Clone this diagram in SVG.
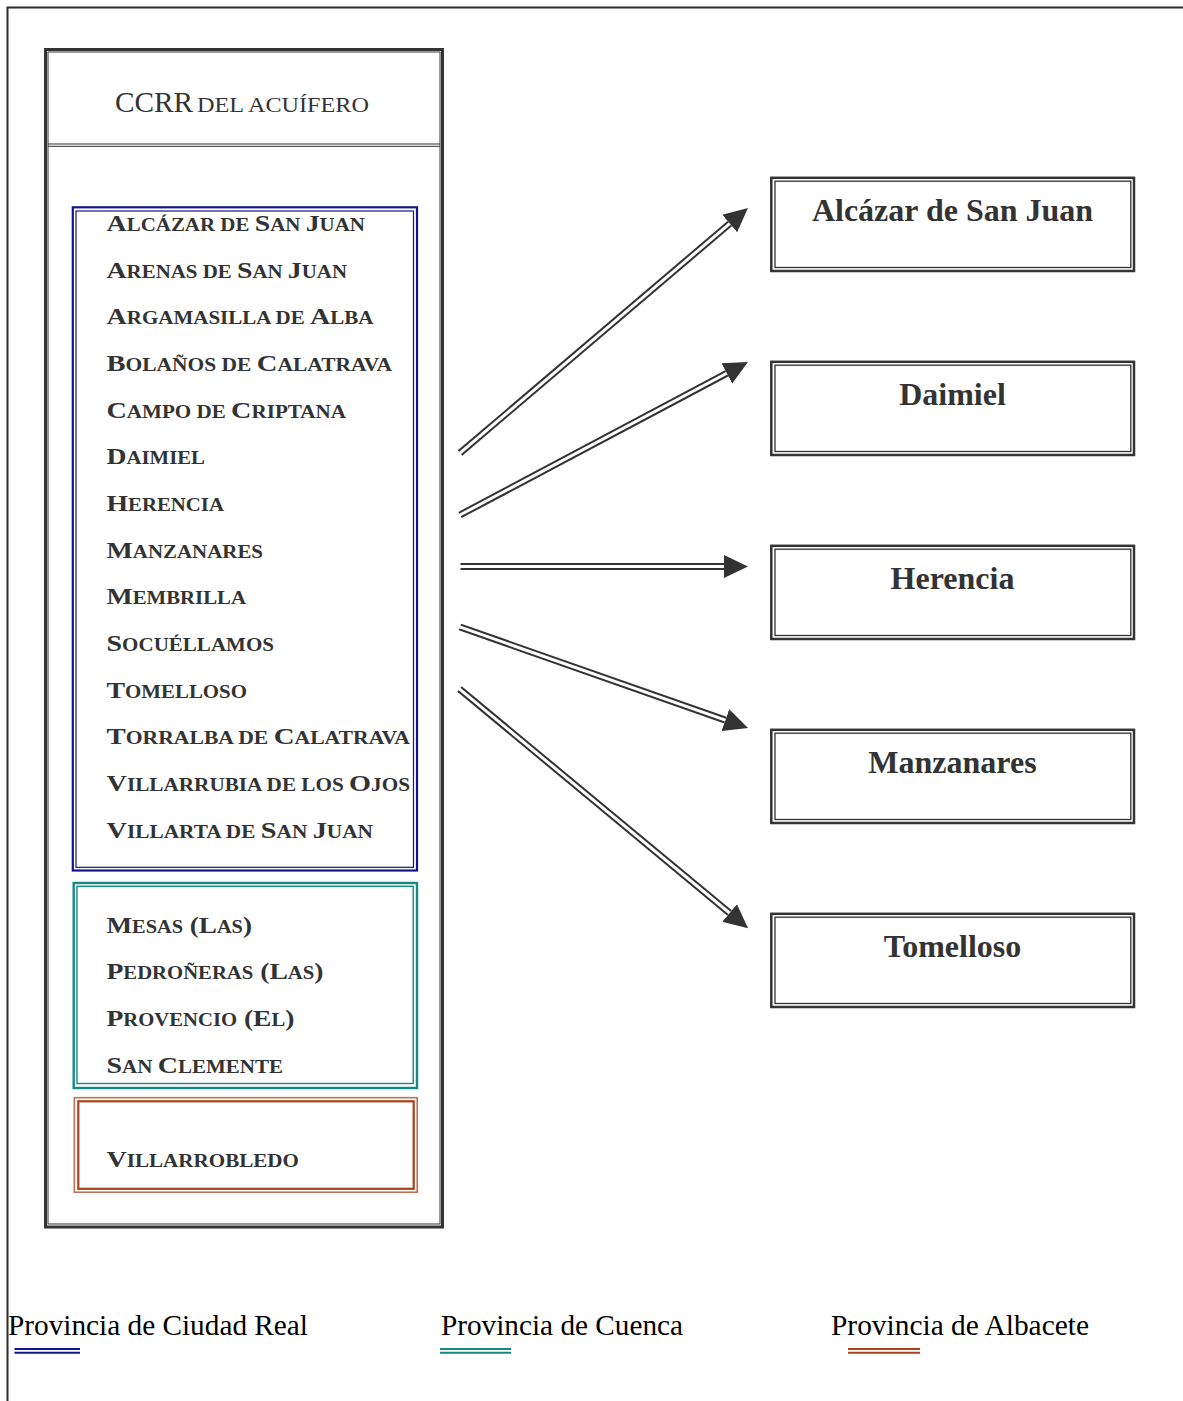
<svg xmlns="http://www.w3.org/2000/svg" width="1183" height="1401" viewBox="0 0 1183 1401">
<style>
  .frame{fill:none;stroke:#2a2a2a}
  .dk{fill:none;stroke:#333333}
  .lst{font-family:"Liberation Serif","Times New Roman",serif;font-weight:bold;fill:#333333}
  .lst .b{font-size:24px}
  .lst .s{font-size:18px}
  .rt{font-family:"Liberation Serif","Times New Roman",serif;font-weight:bold;font-size:32px;fill:#333333;text-anchor:middle}
  .hd{font-family:"Liberation Serif","Times New Roman",serif;fill:#333333}
  .lg{font-family:"Liberation Serif","Times New Roman",serif;font-size:29.3px;fill:#000000}
  .blue{fill:none;stroke:#14148a}
  .teal{fill:none;stroke:#138a82}
  .orng{fill:none;stroke:#a8401a}
  .arrD{stroke:#333333;stroke-width:7;fill:none}
  .arrW{stroke:#ffffff;stroke-width:3;fill:none}
</style>
<defs>
  <marker id="ah" markerUnits="userSpaceOnUse" markerWidth="26" markerHeight="26" viewBox="0 -13 26 26" refX="0" refY="0" orient="auto">
    <path d="M0,-11.5 L24,0 L0,11.5 z" fill="#333333"/>
  </marker>
</defs>

<rect x="0" y="0" width="1183" height="1401" fill="#ffffff"/>

<g id="page-frame">
  <path class="frame" stroke-width="2" d="M7.5,1401 V7.5 H1183"/>
</g>

<g id="ccrr-box">
  <rect class="dk" x="45.5" y="49.5" width="397" height="1177.5" stroke-width="3"/>
  <rect class="dk" x="48" y="52" width="392" height="1172" stroke-width="1"/>
  <line class="dk" x1="48" y1="144" x2="440" y2="144" stroke-width="1"/>
  <line class="dk" x1="48" y1="146.3" x2="440" y2="146.3" stroke-width="1"/>
  <text class="hd" x="115" y="112" font-size="29.3">CCRR</text>
  <text class="hd" x="197" y="112" font-size="20.5" textLength="172" lengthAdjust="spacingAndGlyphs">DEL ACUÍFERO</text>
</g>

<g id="ciudad-real-group">
  <rect class="blue" x="72.8" y="207.3" width="344.2" height="663.2" stroke-width="2.2"/>
  <rect class="blue" x="76" y="211" width="337.5" height="656.3" stroke-width="1.2"/>
  <text class="lst" x="106.5" y="231" textLength="258.5" lengthAdjust="spacingAndGlyphs"><tspan class="b">A</tspan><tspan class="s">LCÁZAR DE </tspan><tspan class="b">S</tspan><tspan class="s">AN </tspan><tspan class="b">J</tspan><tspan class="s">UAN</tspan></text>
  <text class="lst" x="106.5" y="277.7" textLength="240.5" lengthAdjust="spacingAndGlyphs"><tspan class="b">A</tspan><tspan class="s">RENAS DE </tspan><tspan class="b">S</tspan><tspan class="s">AN </tspan><tspan class="b">J</tspan><tspan class="s">UAN</tspan></text>
  <text class="lst" x="106.5" y="324.3" textLength="267" lengthAdjust="spacingAndGlyphs"><tspan class="b">A</tspan><tspan class="s">RGAMASILLA DE </tspan><tspan class="b">A</tspan><tspan class="s">LBA</tspan></text>
  <text class="lst" x="106.5" y="371" textLength="285.5" lengthAdjust="spacingAndGlyphs"><tspan class="b">B</tspan><tspan class="s">OLAÑOS DE </tspan><tspan class="b">C</tspan><tspan class="s">ALATRAVA</tspan></text>
  <text class="lst" x="106.5" y="417.7" textLength="239.5" lengthAdjust="spacingAndGlyphs"><tspan class="b">C</tspan><tspan class="s">AMPO DE </tspan><tspan class="b">C</tspan><tspan class="s">RIPTANA</tspan></text>
  <text class="lst" x="106.5" y="464.3" textLength="98.5" lengthAdjust="spacingAndGlyphs"><tspan class="b">D</tspan><tspan class="s">AIMIEL</tspan></text>
  <text class="lst" x="106.5" y="511" textLength="117.5" lengthAdjust="spacingAndGlyphs"><tspan class="b">H</tspan><tspan class="s">ERENCIA</tspan></text>
  <text class="lst" x="106.5" y="557.7" textLength="156.5" lengthAdjust="spacingAndGlyphs"><tspan class="b">M</tspan><tspan class="s">ANZANARES</tspan></text>
  <text class="lst" x="106.5" y="604.3" textLength="139.5" lengthAdjust="spacingAndGlyphs"><tspan class="b">M</tspan><tspan class="s">EMBRILLA</tspan></text>
  <text class="lst" x="106.5" y="651" textLength="167.5" lengthAdjust="spacingAndGlyphs"><tspan class="b">S</tspan><tspan class="s">OCUÉLLAMOS</tspan></text>
  <text class="lst" x="106.5" y="697.7" textLength="140.5" lengthAdjust="spacingAndGlyphs"><tspan class="b">T</tspan><tspan class="s">OMELLOSO</tspan></text>
  <text class="lst" x="106.5" y="744.3" textLength="303.5" lengthAdjust="spacingAndGlyphs"><tspan class="b">T</tspan><tspan class="s">ORRALBA DE </tspan><tspan class="b">C</tspan><tspan class="s">ALATRAVA</tspan></text>
  <text class="lst" x="106.5" y="791" textLength="303.5" lengthAdjust="spacingAndGlyphs"><tspan class="b">V</tspan><tspan class="s">ILLARRUBIA DE LOS </tspan><tspan class="b">O</tspan><tspan class="s">JOS</tspan></text>
  <text class="lst" x="106.5" y="837.7" textLength="266.5" lengthAdjust="spacingAndGlyphs"><tspan class="b">V</tspan><tspan class="s">ILLARTA DE </tspan><tspan class="b">S</tspan><tspan class="s">AN </tspan><tspan class="b">J</tspan><tspan class="s">UAN</tspan></text>
</g>

<g id="cuenca-group">
  <rect class="teal" x="73.7" y="883" width="343.3" height="205" stroke-width="2.4"/>
  <rect class="teal" x="77" y="886.3" width="336.2" height="197.2" stroke-width="1.4"/>
  <text class="lst" x="106.5" y="932.5" textLength="145.5" lengthAdjust="spacingAndGlyphs"><tspan class="b">M</tspan><tspan class="s">ESAS</tspan><tspan class="b"> (L</tspan><tspan class="s">AS</tspan><tspan class="b">)</tspan></text>
  <text class="lst" x="106.5" y="979.2" textLength="217" lengthAdjust="spacingAndGlyphs"><tspan class="b">P</tspan><tspan class="s">EDROÑERAS</tspan><tspan class="b"> (L</tspan><tspan class="s">AS</tspan><tspan class="b">)</tspan></text>
  <text class="lst" x="106.5" y="1025.8" textLength="188" lengthAdjust="spacingAndGlyphs"><tspan class="b">P</tspan><tspan class="s">ROVENCIO</tspan><tspan class="b"> (E</tspan><tspan class="s">L</tspan><tspan class="b">)</tspan></text>
  <text class="lst" x="106.5" y="1072.5" textLength="176.5" lengthAdjust="spacingAndGlyphs"><tspan class="b">S</tspan><tspan class="s">AN </tspan><tspan class="b">C</tspan><tspan class="s">LEMENTE</tspan></text>
</g>

<g id="albacete-group">
  <rect class="orng" x="74.3" y="1097.7" width="342.9" height="94.5" stroke-width="1.6" stroke-opacity="0.75"/>
  <rect class="orng" x="78.3" y="1101.3" width="335.4" height="87.5" stroke-width="2.2"/>
  <text class="lst" x="106.5" y="1166.5" textLength="192.5" lengthAdjust="spacingAndGlyphs"><tspan class="b">V</tspan><tspan class="s">ILLARROBLEDO</tspan></text>
</g>

<g id="box-alcazar">
  <rect class="dk" x="771.3" y="177.8" width="362.7" height="93.2" stroke-width="2.5"/>
  <rect class="dk" x="775" y="181.2" width="355.8" height="86.3" stroke-width="1.3"/>
  <text class="rt" x="952.5" y="221">Alcázar de San Juan</text>
</g>
<g id="box-daimiel">
  <rect class="dk" x="771.3" y="361.8" width="362.7" height="93.2" stroke-width="2.5"/>
  <rect class="dk" x="775" y="365.2" width="355.8" height="86.3" stroke-width="1.3"/>
  <text class="rt" x="952.5" y="405">Daimiel</text>
</g>
<g id="box-herencia">
  <rect class="dk" x="771.3" y="545.8" width="362.7" height="93.2" stroke-width="2.5"/>
  <rect class="dk" x="775" y="549.2" width="355.8" height="86.3" stroke-width="1.3"/>
  <text class="rt" x="952.5" y="589">Herencia</text>
</g>
<g id="box-manzanares">
  <rect class="dk" x="771.3" y="729.8" width="362.7" height="93.2" stroke-width="2.5"/>
  <rect class="dk" x="775" y="733.2" width="355.8" height="86.3" stroke-width="1.3"/>
  <text class="rt" x="952.5" y="773">Manzanares</text>
</g>
<g id="box-tomelloso">
  <rect class="dk" x="771.3" y="913.8" width="362.7" height="93.2" stroke-width="2.5"/>
  <rect class="dk" x="775" y="917.2" width="355.8" height="86.3" stroke-width="1.3"/>
  <text class="rt" x="952.5" y="957">Tomelloso</text>
</g>

<g id="connectors">
  <line class="arrD" x1="460" y1="453" x2="729.7" y2="223.6" marker-end="url(#ah)"/>
  <line class="arrW" x1="459" y1="453.9" x2="729.7" y2="223.6"/>
  <line class="arrD" x1="460" y1="515" x2="726.8" y2="373.3" marker-end="url(#ah)"/>
  <line class="arrW" x1="459" y1="515.5" x2="726.8" y2="373.3"/>
  <line class="arrD" x1="460.5" y1="566.5" x2="724" y2="566.5" marker-end="url(#ah)"/>
  <line class="arrW" x1="459" y1="566.5" x2="724" y2="566.5"/>
  <line class="arrD" x1="460" y1="627" x2="725.4" y2="720.1" marker-end="url(#ah)"/>
  <line class="arrW" x1="459" y1="626.6" x2="725.4" y2="720.1"/>
  <line class="arrD" x1="459.5" y1="689" x2="729.6" y2="913" marker-end="url(#ah)"/>
  <line class="arrW" x1="458.5" y1="688.2" x2="729.6" y2="913"/>
</g>

<g id="legend">
  <text class="lg" x="8" y="1335" textLength="300" lengthAdjust="spacingAndGlyphs">Provincia de Ciudad Real</text>
  <line class="blue" x1="14.5" y1="1349" x2="80" y2="1349" stroke-width="2"/>
  <line class="blue" x1="14.5" y1="1352.8" x2="80" y2="1352.8" stroke-width="2"/>
  <text class="lg" x="441" y="1335" textLength="242" lengthAdjust="spacingAndGlyphs">Provincia de Cuenca</text>
  <line class="teal" x1="440" y1="1349" x2="511" y2="1349" stroke-width="2"/>
  <line class="teal" x1="440" y1="1352.8" x2="511" y2="1352.8" stroke-width="2"/>
  <text class="lg" x="831" y="1335" textLength="258" lengthAdjust="spacingAndGlyphs">Provincia de Albacete</text>
  <line class="orng" x1="848" y1="1349" x2="920" y2="1349" stroke-width="2"/>
  <line class="orng" x1="848" y1="1352.8" x2="920" y2="1352.8" stroke-width="2"/>
</g>
</svg>
